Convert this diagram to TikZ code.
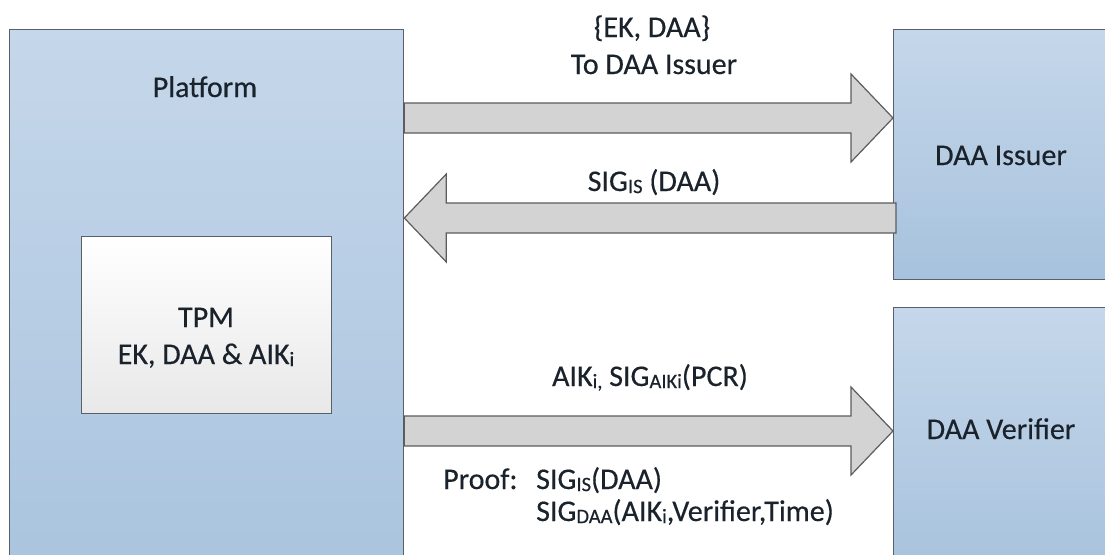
\documentclass[tikz,border=0pt]{standalone}
\usepackage{fontspec}
\setmainfont{Carlito}[UprightFeatures={FakeBold=0.4}]
\usetikzlibrary{calc}

\definecolor{boxtop}{HTML}{C5D7EA}
\definecolor{boxbot}{HTML}{A7C2DD}
\definecolor{boxedge}{HTML}{58606A}
\definecolor{tpmbot}{HTML}{E8E8E8}
\definecolor{arrowfill}{HTML}{D3D3D3}
\definecolor{arrowedge}{HTML}{5C5C5C}
\definecolor{ink}{HTML}{1A222C}

% small lowered index, as used in SIG_IS, AIK_i ...
\newcommand\lowsub[1]{\raisebox{-0.07em}{\fontsize{20.5}{20.5}\selectfont #1}}

% block arrow from #1 (tail) to #2 (tip); #3 = signed head length
\newcommand\fatarrow[3]{%
  \draw[blockarrow] let \p1=(#1), \p2=(#2), \n1={\x2-(#3)} in
    (\x1,{\y2+15pt}) -- (\n1,{\y2+15pt}) -- (\n1,{\y2+44pt}) -- (\x2,\y2)
    -- (\n1,{\y2-44pt}) -- (\n1,{\y2-15pt}) -- (\x1,{\y2-15pt}) -- cycle;}

\begin{document}
\begin{tikzpicture}[x=1pt,y=-1pt,
  entity/.style={rectangle, draw=boxedge, line width=1.3pt,
    top color=boxtop, bottom color=boxbot, anchor=north west, inner sep=0pt},
  chip/.style={rectangle, draw=boxedge, line width=1.3pt,
    top color=white, bottom color=tpmbot, anchor=north west, inner sep=0pt},
  blockarrow/.style={draw=arrowedge, fill=arrowfill, line width=1.2pt, line join=miter},
  lbl/.style={font=\fontsize{30}{36.6}\selectfont, text=ink, inner sep=0pt, anchor=base}]

\clip (0,0) rectangle (1105,554);
\fill[white] (0,0) rectangle (1105,554);

% parties
\node[entity, minimum width=394pt, minimum height=600pt] (platform) at (9,29) {};
\node[chip, minimum width=250pt, minimum height=177pt] (tpm) at (81,236) {};
\node[entity, minimum width=225pt, minimum height=250pt] (issuer) at (893,29) {};
\node[entity, minimum width=225pt, minimum height=270pt] (verifier) at (893,307) {};

% heights of the three message lanes
\coordinate (lane1) at (0,118);
\coordinate (lane2) at (0,218);
\coordinate (lane3) at (0,431);

\coordinate (a1tail) at (platform.east |- lane1);
\coordinate (a1tip)  at (issuer.west |- lane1);
\coordinate (a2tail) at ($(issuer.west |- lane2)+(3,0)$);
\coordinate (a2tip)  at (platform.east |- lane2);
\coordinate (a3tail) at (platform.east |- lane3);
\coordinate (a3tip)  at (verifier.west |- lane3);

\fatarrow{a1tail}{a1tip}{42pt}
\fatarrow{a2tail}{a2tip}{-42pt}
\fatarrow{a3tail}{a3tip}{42pt}

% box titles
\node[lbl] (platformtxt) at (205,97) {Platform};
\node[lbl] (tpmtxt) at (206,327) {TPM};
\node[lbl] (tpmkeys) at (206,364) {EK, DAA \& AIK\lowsub{i}};
\node[lbl] (issuertxt) at (1001,165) {DAA Issuer};
\node[lbl] (verifiertxt) at (1001,439) {DAA Verifier};

% message labels
\node[lbl] (m1a) at (652,37) {\{EK, DAA\}};
\node[lbl] (m1b) at (654,74) {To DAA Issuer};
\node[lbl] (m2) at (654,191) {SIG\lowsub{IS} (DAA)};
\node[lbl] (m3) at (650,386) {AIK\lowsub{i,} SIG\lowsub{AIKi}(PCR)};
\node[lbl, anchor=base west] (proof) at (443,489) {Proof:};
\node[lbl, anchor=base west] (proof1) at (536,489) {SIG\lowsub{IS}(DAA)};
\node[lbl, anchor=base west] (proof2) at (536,521) {SIG\lowsub{DAA}(AIK\lowsub{i},Verifier,Time)};
\end{tikzpicture}
\end{document}
